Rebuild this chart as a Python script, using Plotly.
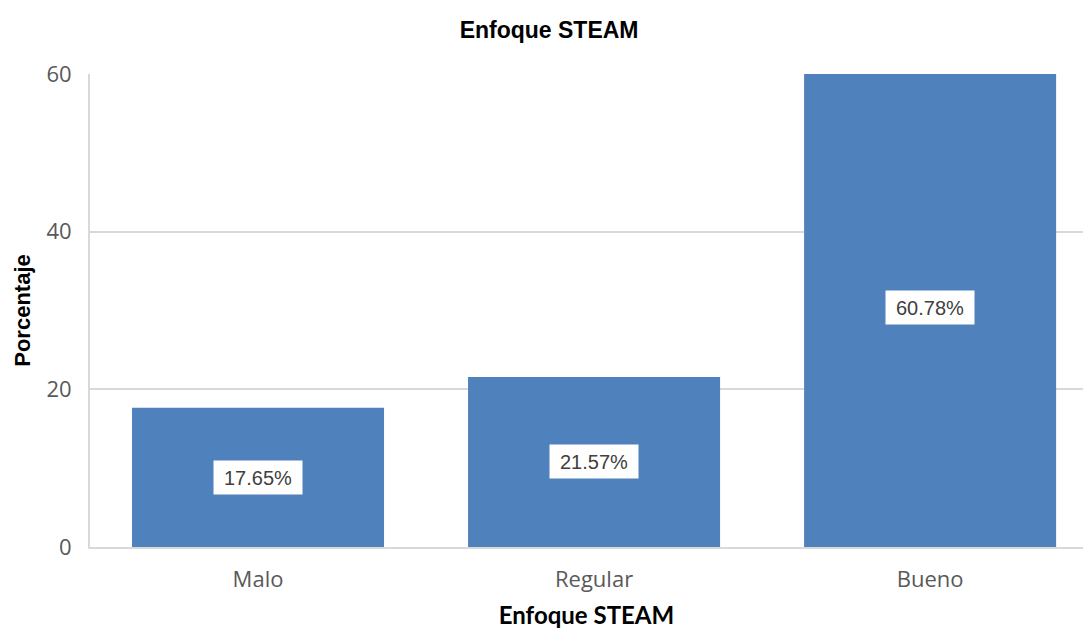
import plotly.graph_objects as go

categories = ["Malo", "Regular", "Bueno"]
percentages = [17.65, 21.57, 60.78]
y_ticks = [0, 20, 40, 60]

bar_color = "#4F81BD"
grid_color = "#D9D9D9"

fig = go.Figure()
fig.add_trace(go.Bar(
    x=categories,
    y=percentages,
    width=0.75,
    marker=dict(color=bar_color, line=dict(width=0)),
    hoverinfo="x+y",
))

# value labels in white boxes, centred on each bar
for cat, val in zip(categories, percentages):
    fig.add_annotation(
        x=cat, y=val / 2, xref="x", yref="y",
        text=f"{val:.2f}%", showarrow=False,
        font=dict(family="Liberation Sans, Arial", size=20, color="#404040"),
        bgcolor="white", borderpad=3, width=82, height=27,
    )

fig.update_layout(
    width=1083, height=629,
    margin=dict(l=90, r=0, t=74, b=82),
    paper_bgcolor="white", plot_bgcolor="white",
    showlegend=False,
    title=dict(
        text="<b>Enfoque STEAM</b>",
        x=0.507, xanchor="center", y=0.953, yanchor="middle",
        font=dict(family="Liberation Sans, Arial", size=23, color="black"),
    ),
    xaxis=dict(
        range=[-0.5, 2.455],
        showgrid=False, showline=True, linecolor=grid_color, linewidth=2,
        ticks="", ticklabelstandoff=12,
        tickfont=dict(family="Open Sans", size=22, color="#595959"),
        title=dict(text="<b>Enfoque STEAM</b>", standoff=18,
                   font=dict(family="Lato", size=24, color="black")),
    ),
    yaxis=dict(
        range=[0, 60], tickvals=y_ticks,
        showgrid=True, gridcolor=grid_color, gridwidth=1.5,
        showline=True, linecolor=grid_color, linewidth=2,
        zeroline=False, ticks="", ticklabelstandoff=12,
        tickfont=dict(family="Open Sans", size=22, color="#595959"),
        title=dict(text="<b>Porcentaje</b>", standoff=10,
                   font=dict(family="Liberation Sans, Arial", size=22, color="black")),
    ),
)

fig.write_html("out.html")
